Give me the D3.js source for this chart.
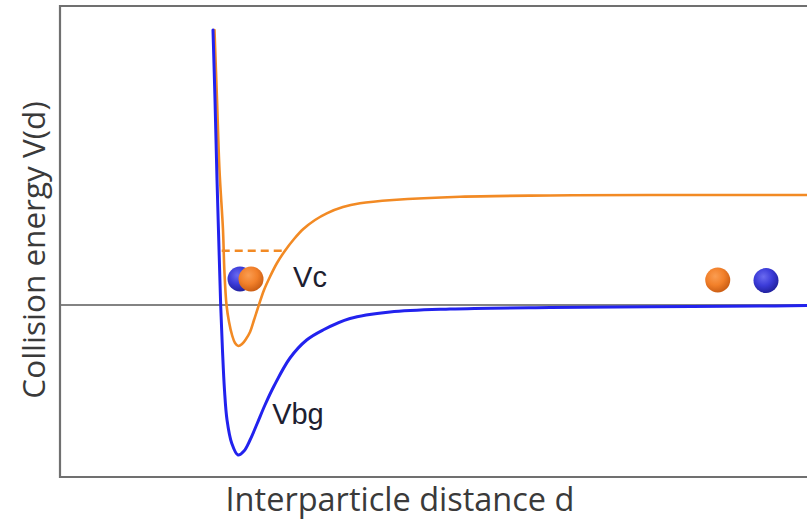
<!DOCTYPE html>
<html>
<head>
<meta charset="utf-8">
<script src="https://cdn.jsdelivr.net/npm/d3@7"></script>
<style>
  html, body { margin: 0; padding: 0; background: #fff; }
  svg { display: block; }
</style>
</head>
<body>
<svg id="chart" width="807" height="521"></svg>
<script>
// Interparticle distance (arbitrary units) and interaction potentials
const distanceBg = [2.048, 2.075, 2.102, 2.129, 2.151, 2.175, 2.202, 2.236, 2.298, 2.383,
                    2.463, 2.544, 2.637, 2.744, 2.865, 3.079, 3.302, 3.521, 3.882, 4.418,
                    5.221, 6.56, 7.90, 9.37, 10.0];
const vbg = [2.75, 2.05, 1.25, 0.55, 0.0, -0.45, -0.85, -1.15, -1.38, -1.50,
             -1.46, -1.35, -1.19, -1.00, -0.81, -0.53, -0.35, -0.25, -0.135, -0.07,
             -0.04, -0.025, -0.018, -0.01, -0.006];

const distanceC = [2.068, 2.102, 2.135, 2.182, 2.200, 2.229, 2.263, 2.303, 2.343, 2.387,
                   2.437, 2.490, 2.544, 2.597, 2.655, 2.731, 2.811, 2.905, 3.012, 3.133,
                   3.257, 3.414, 3.571, 3.788, 4.016, 4.458, 5.355, 6.56, 7.90, 10.0];
const vc = [2.75, 2.05, 1.35, 0.75, 0.35, 0.0, -0.17, -0.30, -0.38, -0.41,
            -0.39, -0.34, -0.27, -0.15, -0.017, 0.15, 0.283, 0.42, 0.543, 0.66,
            0.76, 0.85, 0.917, 0.98, 1.017, 1.05, 1.083, 1.095, 1.10, 1.10];

// Bound-state level drawn as a dashed segment inside the orange well
const levelRange = [2.165, 3.012];
const levelEnergy = 0.543;

// Particle pairs: close together in the well and far apart
const particles = [
  { x: 2.41,  y: 0.26,  kind: "b" },
  { x: 2.557, y: 0.26,  kind: "o" },
  { x: 8.805, y: 0.25,  kind: "o" },
  { x: 9.451, y: 0.245, kind: "b" }
];

const curveLabels = [
  { text: "Vc",  x: 3.12, y: 0.18 },
  { text: "Vbg", x: 2.84, y: -1.19 }
];

const xTitle = "Interparticle distance d";
const yTitle = "Collision energy V(d)";

const svg = d3.select("#chart");
const plotLeft = 60, plotTop = 6, plotRight = 807, plotBottom = 477;

const x = d3.scaleLinear().domain([0, 10]).range([plotLeft, plotRight]);
const y = d3.scaleLinear().domain([-1.72, 2.99]).range([plotBottom, plotTop]);

const BLUE = "#2222ee";
const ORANGE = "#f28a24";

// gradients for the shaded particles
const defs = svg.append("defs");
function ballGradient(id, light, mid, dark) {
  const g = defs.append("radialGradient").attr("id", id)
    .attr("cx", "40%").attr("cy", "35%").attr("r", "65%");
  g.append("stop").attr("offset", "0%").attr("stop-color", light);
  g.append("stop").attr("offset", "55%").attr("stop-color", mid);
  g.append("stop").attr("offset", "100%").attr("stop-color", dark);
}
ballGradient("ballO", "#fa9d52", "#f2802a", "#cc5f15");
ballGradient("ballB", "#6b6bf0", "#3b3bd8", "#2222a0");

defs.append("clipPath").attr("id", "plotClip")
  .append("rect").attr("x", plotLeft).attr("y", plotTop)
  .attr("width", plotRight - plotLeft).attr("height", plotBottom - plotTop);

// zero-energy reference line
svg.append("line")
  .attr("x1", plotLeft).attr("x2", plotRight)
  .attr("y1", y(0)).attr("y2", y(0))
  .attr("stroke", "#5a5a5a").attr("stroke-width", 1.6);

const plot = svg.append("g").attr("clip-path", "url(#plotClip)");

const line = d3.line()
  .x(d => x(d[0])).y(d => y(d[1]))
  .curve(d3.curveCatmullRom.alpha(0.5));

plot.append("path")
  .datum(d3.zip(distanceC, vc))
  .attr("d", line)
  .attr("fill", "none").attr("stroke", ORANGE).attr("stroke-width", 2.6)
  .attr("stroke-linejoin", "round").attr("stroke-linecap", "round");

plot.append("path")
  .datum(d3.zip(distanceBg, vbg))
  .attr("d", line)
  .attr("fill", "none").attr("stroke", BLUE).attr("stroke-width", 3)
  .attr("stroke-linejoin", "round").attr("stroke-linecap", "round");

plot.append("line")
  .attr("x1", x(levelRange[0])).attr("x2", x(levelRange[1]))
  .attr("y1", y(levelEnergy)).attr("y2", y(levelEnergy))
  .attr("stroke", ORANGE).attr("stroke-width", 2.5)
  .attr("stroke-dasharray", "8,5");

// particles
svg.append("g").selectAll("circle")
  .data(particles)
  .join("circle")
  .attr("cx", d => x(d.x)).attr("cy", d => y(d.y))
  .attr("r", 12.5)
  .attr("fill", d => d.kind === "o" ? "url(#ballO)" : "url(#ballB)");

// curve labels
svg.append("g").selectAll("text")
  .data(curveLabels)
  .join("text")
  .attr("x", d => x(d.x)).attr("y", d => y(d.y))
  .attr("font-family", "Liberation Sans, Arial, sans-serif")
  .attr("font-size", 29)
  .attr("fill", "#1d2030")
  .text(d => d.text);

// frame: left, top and bottom edges
svg.append("path")
  .attr("d", `M${plotRight},${plotTop}H${plotLeft}V${plotBottom}H${plotRight}`)
  .attr("stroke", "#707070").attr("stroke-width", 2.2).attr("fill", "none");

// axis titles
svg.append("text")
  .attr("x", 400).attr("y", 511)
  .attr("text-anchor", "middle")
  .attr("font-family", "Open Sans, sans-serif")
  .attr("font-size", 32.5)
  .attr("fill", "#3a3a3a")
  .text(xTitle);

svg.append("text")
  .attr("transform", "translate(45, 250) rotate(-90)")
  .attr("text-anchor", "middle")
  .attr("font-family", "Open Sans, sans-serif")
  .attr("font-size", 31.5)
  .attr("fill", "#3a3a3a")
  .text(yTitle);
</script>
</body>
</html>
